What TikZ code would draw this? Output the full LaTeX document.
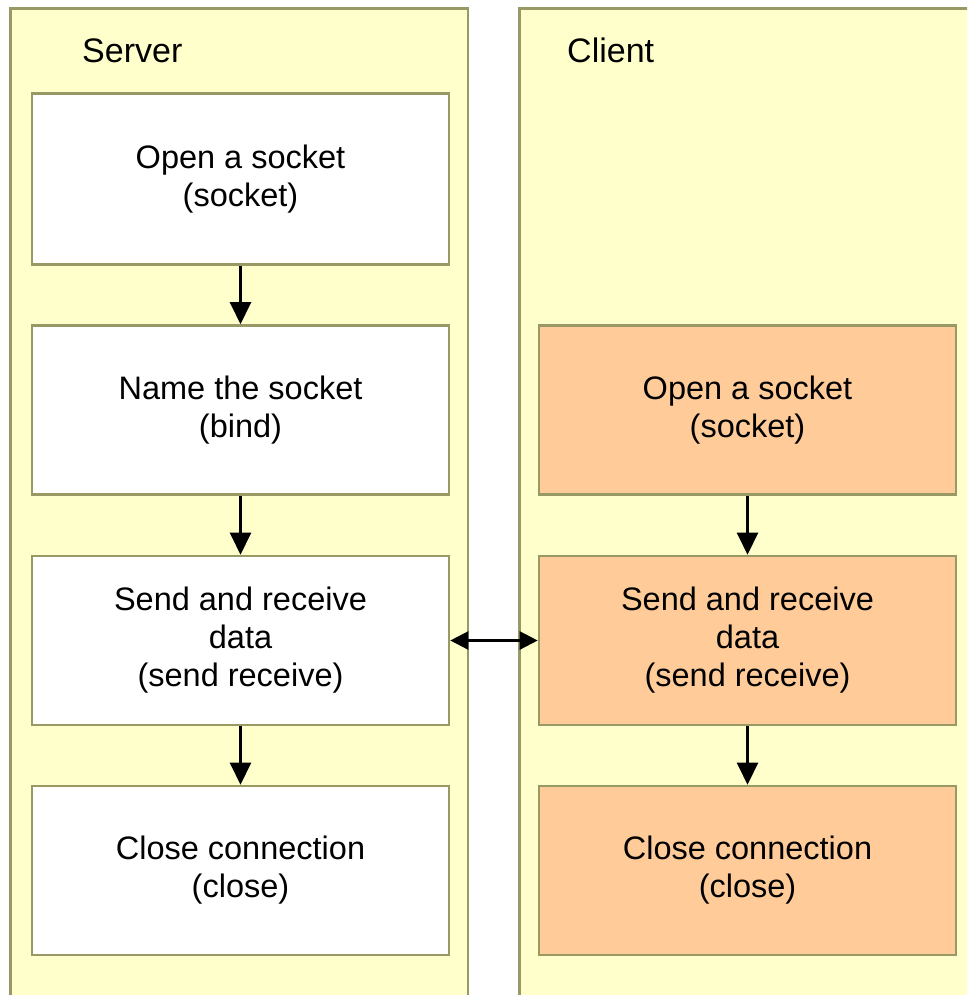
\documentclass[tikz,border=0pt]{standalone}
\usepackage{fontspec}
\setmainfont{Liberation Sans}
\usetikzlibrary{positioning, arrows.meta}
\definecolor{lanefill}{HTML}{FFFFCC}
\definecolor{laneline}{HTML}{999966}
\definecolor{clientfill}{HTML}{FFCC99}

\tikzset{
  lane/.style={fill=lanefill, draw=laneline, line width=2.6pt},
  lanelabel/.style={anchor=base west, inner sep=0pt, font=\fontsize{34}{40}\selectfont},
  stepbox/.style={draw=laneline, line width=2.6pt, minimum width=417pt, minimum height=169pt,
    align=center, inner sep=0pt, font=\fontsize{32.5}{38}\selectfont},
  srvbox/.style={stepbox, fill=white},
  clibox/.style={stepbox, fill=clientfill},
  flow/.style={line width=2.4pt, -{Triangle[length=22pt, width=21pt]}},
  both/.style={line width=2.4pt, {Triangle[length=18pt, width=18pt]}-{Triangle[length=18pt, width=18pt]}},
}

\begin{document}
\begin{tikzpicture}[x=1pt, y=-1pt]
  \useasboundingbox (0,0) rectangle (967,995);
  \clip (0,0) rectangle (967,995);
  % the two swim lanes, open at the bottom
  \draw[lane] (10.5,8.7) rectangle (468,1020);
  \draw[lane] (519.7,8.7) rectangle (1000,1020);
  \node[lanelabel] (srvlabel) at (82,63) {Server};
  \node[lanelabel] (clilabel) at (567,63) {Client};

  % server side
  \node[srvbox, minimum height=171pt] (srv1) at (240.5,179.2) {Open a socket\\(socket)};
  \node[srvbox] (srv2) at (240.5,410) {Name the socket\\(bind)};
  \node[srvbox] (srv3) at (240.5,640.5) {Send and receive\\data\\(send receive)};
  \node[srvbox] (srv4) at (240.5,870.5) {Close connection\\(close)};

  % client side
  \node[clibox] (cli1) at (747.5,410) {Open a socket\\(socket)};
  \node[clibox] (cli2) at (747.5,640.5) {Send and receive\\data\\(send receive)};
  \node[clibox] (cli3) at (747.5,870.5) {Close connection\\(close)};

  \draw[flow] (srv1) -- (srv2);
  \draw[flow] (srv2) -- (srv3);
  \draw[flow] (srv3) -- (srv4);
  \draw[flow] (cli1) -- (cli2);
  \draw[flow] (cli2) -- (cli3);
  \draw[both] (srv3.east) -- (cli2.west);
\end{tikzpicture}
\end{document}
